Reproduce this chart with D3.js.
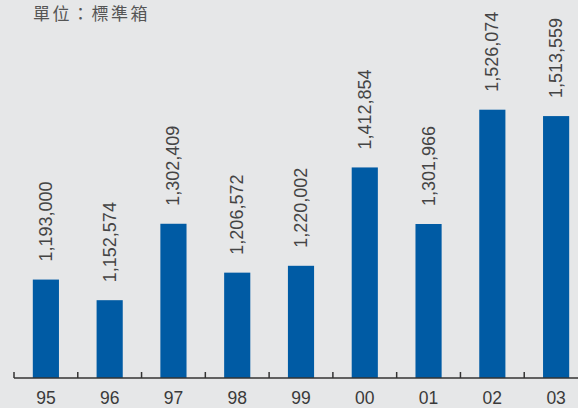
<!DOCTYPE html>
<html><head><meta charset="utf-8">
<script src="https://cdn.jsdelivr.net/npm/d3@7"></script>
<style>
html,body{margin:0;padding:0;background:#e6e7e8;}
svg{display:block;}
</style></head>
<body>
<script>
const categories = ["95","96","97","98","99","00","01","02","03"];
const values = [1193000,1152574,1302409,1206572,1220002,1412854,1301966,1526074,1513559];
const unitLabel = "單位：標準箱";

const W = 578, H = 408;
const svg = d3.select("body").append("svg").attr("width", W).attr("height", H);
svg.append("rect").attr("width", W).attr("height", H).attr("fill", "#e6e7e8");

const baseY = 378;
const x = d3.scaleBand().domain(categories).range([14, 588]).paddingInner(0.59).paddingOuter(0.295);
const y = d3.scaleLinear().domain([1000000, 1600000]).range([baseY, 72]);
const fmt = d3.format(",");

svg.append("text").attr("x", 33).attr("y", 20)
  .attr("font-family", "'Noto Sans CJK TC', sans-serif").attr("font-size", 17)
  .attr("letter-spacing", 2.5)
  .attr("fill", "#555").text(unitLabel);

svg.selectAll("rect.bar").data(values).join("rect").attr("class","bar")
  .attr("x", (d,i) => x(categories[i]))
  .attr("width", x.bandwidth())
  .attr("y", d => y(d))
  .attr("height", d => baseY - y(d))
  .attr("fill", "#005ba4");

svg.selectAll("text.val").data(values).join("text").attr("class","val")
  .attr("transform", (d,i) => `translate(${x(categories[i]) + x.bandwidth()/2 + 6},${y(d) - 18}) rotate(-90)`)
  .attr("font-family", "'Liberation Sans', Arial, sans-serif").attr("font-size", 18)
  .attr("fill", "#444").text(d => fmt(d));

// axis
const axis = d3.axisBottom(x).tickSize(0).tickPadding(14);
const g = svg.append("g").attr("transform", `translate(0,${baseY})`).call(axis);
g.select(".domain").remove();
g.selectAll("text").attr("font-family", "'Liberation Sans', Arial, sans-serif").attr("font-size", 17.5).attr("fill", "#3a3a3a");

svg.append("line").attr("x1", 14).attr("x2", W).attr("y1", baseY).attr("y2", baseY)
  .attr("stroke", "#333").attr("stroke-width", 1.5);
const step = x.step();
svg.selectAll("line.tk").data(categories).join("line").attr("class","tk")
  .attr("x1", d => x(d) - x.paddingOuter()*step)
  .attr("x2", d => x(d) - x.paddingOuter()*step)
  .attr("y1", baseY).attr("y2", baseY - 6)
  .attr("stroke", "#333").attr("stroke-width", 1.5);
</script>
</body></html>
